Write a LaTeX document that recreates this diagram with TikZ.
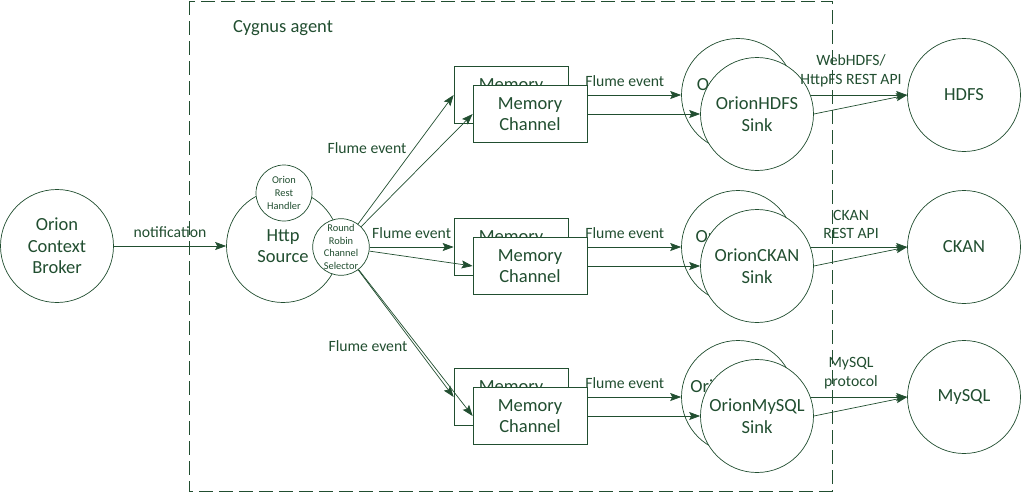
\documentclass[tikz,border=0pt]{standalone}
\usepackage{fontspec}
\setmainfont{Carlito}
\usepackage{tikz}
\usetikzlibrary{arrows.meta}
\definecolor{cygreen}{RGB}{33,78,48}

\begin{document}
\begin{tikzpicture}[x=1pt,y=-1pt,color=cygreen,line width=0.7pt,
    bigcirc/.style={circle, draw, fill=white, minimum size=113pt, inner sep=0pt, align=center, font=\fontsize{18.5}{21.5}\selectfont},
    memchan/.style={rectangle, draw, fill=white, minimum width=114pt, minimum height=57pt, inner sep=0pt, align=center, font=\fontsize{18.5}{21.5}\selectfont},
    smallcirc/.style={circle, draw, fill=white, minimum size=56pt, inner sep=0pt, align=center, font=\fontsize{10.4}{12.6}\selectfont},
    lbl/.style={inner sep=2pt, align=center, font=\fontsize{15.7}{18.5}\selectfont},
    flow/.style={-{Stealth[length=11pt,width=8pt,inset=2pt]}}]
  \useasboundingbox (0,0) rectangle (1022,493);
  % agent frame
  \draw[dash pattern=on 14pt off 6pt, line width=1pt] (189,1) rectangle (832,491);
  \node[font=\fontsize{18.5}{21.5}\selectfont] (agent) at (283,28) {Cygnus agent};

  \node[bigcirc] (ocb) at (57,246) {Orion\\Context\\Broker};
  \node[bigcirc] (http) at (283,246) {Http\\Source};
  \node[smallcirc] (handler) at (284,193) {Orion\\Rest\\Handler};
  \node[smallcirc] (selector) at (341,247) {Round\\Robin\\Channel\\Selector};

  \node[bigcirc] (hdfs) at (964,95) {HDFS};
  \node[bigcirc] (ckan) at (964,247) {CKAN};
  \node[bigcirc] (mysql) at (964,397) {MySQL};

  % back channels and sinks
  \node[memchan] (mem1b) at (511,95) {Memory\\Channel};
  \node[bigcirc] (sink1b) at (738,95) {OrionHDFS\\Sink};
  \node[memchan] (mem2b) at (511,247) {Memory\\Channel};
  \node[bigcirc] (sink2b) at (738,247) {OrionCKAN\\Sink};
  \node[memchan] (mem3b) at (511,397) {Memory\\Channel};
  \node[bigcirc] (sink3b) at (738,397) {OrionMySQL\\Sink};
  \draw[flow] (mem1b.east) -- node[lbl, above=6pt] {Flume event} (sink1b.west);
  \draw[flow] (mem2b.east) -- node[lbl, above=6pt] {Flume event} (sink2b.west);
  \draw[flow] (mem3b.east) -- node[lbl, above=6pt] {Flume event} (sink3b.west);
  \draw[flow] (sink1b.east) -- (hdfs.west);
  \draw[flow] (sink2b.east) -- (ckan.west);
  \draw[flow] (sink3b.east) -- (mysql.west);

  % front channels and sinks
  \node[memchan] (mem1f) at (530,114) {Memory\\Channel};
  \node[bigcirc] (sink1f) at (757,114) {OrionHDFS\\Sink};
  \node[memchan] (mem2f) at (530,266) {Memory\\Channel};
  \node[bigcirc] (sink2f) at (757,266) {OrionCKAN\\Sink};
  \node[memchan] (mem3f) at (530,416) {Memory\\Channel};
  \node[bigcirc] (sink3f) at (757,416) {OrionMySQL\\Sink};

  \path (sink1b.east) -- node[lbl, above=6pt] {WebHDFS/\\HttpFS REST API} (hdfs.west);
  \path (sink2b.east) -- node[lbl, above=6pt] {CKAN\\REST API} (ckan.west);
  \path (sink3b.east) -- node[lbl, above=6pt] {MySQL\\protocol} (mysql.west);

  \draw[flow] (ocb) -- node[lbl, above=6pt] {notification} (http);
  \draw[flow] (selector) -- node[lbl, pos=0.53, above left] {Flume event} (mem1b.west);
  \draw[flow] (selector) -- (mem1f.west);
  \draw[flow] (selector) -- node[lbl, above=6pt] {Flume event} (mem2b.west);
  \draw[flow] (selector) -- (mem2f.west);
  \draw[flow] (selector) -- node[lbl, pos=0.54, below left] {Flume event} (mem3b.west);
  \draw[flow] (selector) -- (mem3f.west);
  \draw[flow] (mem1f.east) -- (sink1f.west);
  \draw[flow] (mem2f.east) -- (sink2f.west);
  \draw[flow] (mem3f.east) -- (sink3f.west);
  \draw[flow] (sink1f.east) -- (hdfs.west);
  \draw[flow] (sink2f.east) -- (ckan.west);
  \draw[flow] (sink3f.east) -- (mysql.west);
\end{tikzpicture}
\end{document}
